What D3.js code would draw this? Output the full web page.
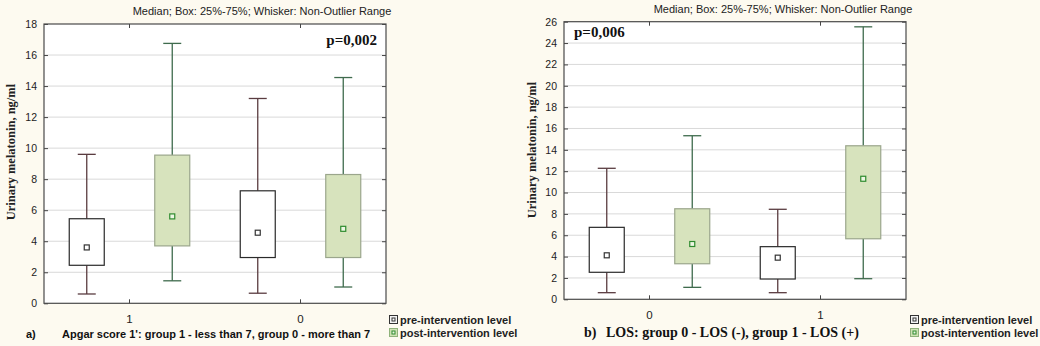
<!DOCTYPE html>
<html><head><meta charset="utf-8">
<script src="https://cdn.jsdelivr.net/npm/d3@7"></script>
<style>body{margin:0;background:#fdfaf0}svg{display:block}</style>
</head><body>
<script>
// ---- data (5-number summaries: [min, q1, median, q3, max]) ----
const groupsA = ["1", "0"];
const preA  = [[0.6, 2.45, 3.6, 5.45, 9.6], [0.65, 2.95, 4.55, 7.25, 13.2]];
const postA = [[1.45, 3.7, 5.6, 9.55, 16.75], [1.05, 2.95, 4.8, 8.3, 14.55]];
const ticksA = [0, 2, 4, 6, 8, 10, 12, 14, 16, 18];

const groupsB = ["0", "1"];
const preB  = [[0.62, 2.53, 4.12, 6.74, 12.27], [0.62, 1.9, 3.9, 4.93, 8.43]];
const postB = [[1.12, 3.33, 5.18, 8.48, 15.32], [1.93, 5.67, 11.29, 14.38, 25.52]];
const ticksB = [0, 2, 4, 6, 8, 10, 12, 14, 16, 18, 20, 22, 24, 26];

const seriesNames = ["pre-intervention level", "post-intervention level"];
const chartTitle = "Median; Box: 25%-75%; Whisker: Non-Outlier Range";
const yTitle = "Urinary melatonin, ng/ml";

const W = 1040, H = 346;
const svg = d3.select("body").append("svg").attr("width", W).attr("height", H);
svg.append("rect").attr("width", W).attr("height", H).attr("fill", "#fdfaf0");

const styles = {
  pre:  {fill: "#ffffff", stroke: "#2a2a2a", whisker: "#5a3c40", mFill: "#ffffff", mStroke: "#333333"},
  post: {fill: "#d7e3bd", stroke: "#9ba68c", whisker: "#3f6b4d", mFill: "#eef6e4", mStroke: "#2e8b2e"}
};

function panel(cfg) {
  const g = svg.append("g");
  const x = d3.scaleBand().domain(cfg.groups).range([cfg.x0, cfg.x1]);
  const inner = d3.scalePoint().domain(["pre", "post"]).range([0, x.bandwidth()]).padding(0.5);
  const y = d3.scaleLinear().domain([cfg.ticks[0], cfg.ticks[cfg.ticks.length - 1]]).range([cfg.y1, cfg.y0]);

  g.append("rect").attr("x", cfg.x0).attr("y", cfg.y0).attr("width", cfg.x1 - cfg.x0).attr("height", cfg.y1 - cfg.y0).attr("fill", "#ffffff");
  g.append("g").selectAll("line").data(cfg.ticks.slice(1, -1)).join("line")
    .attr("x1", cfg.x0).attr("x2", cfg.x1).attr("y1", d => y(d)).attr("y2", d => y(d))
    .attr("stroke", "#d9d9d9").attr("stroke-width", 1);

  const ya = g.append("g").attr("transform", `translate(${cfg.x0},0)`)
    .call(d3.axisLeft(y).tickValues(cfg.ticks).tickSize(-4).tickPadding(7).tickFormat(d3.format("d")));
  const yr = g.append("g").attr("transform", `translate(${cfg.x1},0)`)
    .call(d3.axisRight(y).tickValues(cfg.ticks).tickSize(-4).tickFormat(""));
  const xa = g.append("g").attr("transform", `translate(0,${cfg.y1})`)
    .call(d3.axisBottom(x).tickSize(-4).tickPadding(12));
  const xt = g.append("g").attr("transform", `translate(0,${cfg.y0})`)
    .call(d3.axisTop(x).tickSize(-4).tickFormat(""));
  [ya, yr, xa, xt].forEach(a => {
    a.select(".domain").remove();
    a.selectAll(".tick line").attr("stroke", "#444");
    a.selectAll("text").attr("font-family", "Liberation Sans, Arial, sans-serif").attr("font-size", 10.5).attr("fill", "#222");
  });
  xa.selectAll("text").attr("font-size", 11.5);

  const boxW = 35, capW = 18;
  cfg.groups.forEach((grp, i) => {
    [["pre", cfg.pre[i]], ["post", cfg.post[i]]].forEach(([k, v]) => {
      const s = styles[k];
      const cx = x(grp) + inner(k);
      const [mn, q1, md, q3, mx] = v;
      const bg = g.append("g");
      bg.append("line").attr("x1", cx).attr("x2", cx).attr("y1", y(mx)).attr("y2", y(q3)).attr("stroke", s.whisker).attr("stroke-width", 1.3);
      bg.append("line").attr("x1", cx).attr("x2", cx).attr("y1", y(q1)).attr("y2", y(mn)).attr("stroke", s.whisker).attr("stroke-width", 1.3);
      bg.append("line").attr("x1", cx - capW / 2).attr("x2", cx + capW / 2).attr("y1", y(mx)).attr("y2", y(mx)).attr("stroke", s.whisker).attr("stroke-width", 1.3);
      bg.append("line").attr("x1", cx - capW / 2).attr("x2", cx + capW / 2).attr("y1", y(mn)).attr("y2", y(mn)).attr("stroke", s.whisker).attr("stroke-width", 1.3);
      bg.append("rect").attr("x", cx - boxW / 2).attr("y", y(q3)).attr("width", boxW).attr("height", y(q1) - y(q3))
        .attr("fill", s.fill).attr("stroke", s.stroke).attr("stroke-width", 1.2);
      bg.append("rect").attr("x", cx - 2.5).attr("y", y(md) - 2.5).attr("width", 5).attr("height", 5)
        .attr("fill", s.mFill).attr("stroke", s.mStroke).attr("stroke-width", 1.2);
    });
  });

  g.append("rect").attr("x", cfg.x0).attr("y", cfg.y0).attr("width", cfg.x1 - cfg.x0).attr("height", cfg.y1 - cfg.y0)
    .attr("fill", "none").attr("stroke", "#4a4a4a").attr("stroke-width", 1.2);

  g.append("text").attr("x", cfg.titleX).attr("y", cfg.titleY).attr("text-anchor", "middle")
    .attr("font-family", "Liberation Sans, Arial, sans-serif").attr("font-size", 11).attr("fill", "#222").text(chartTitle);
  g.append("text").attr("transform", `translate(${cfg.yTitleX},${cfg.yTitleY}) rotate(-90)`).attr("text-anchor", "middle")
    .attr("font-family", "Liberation Serif, Times New Roman, serif").attr("font-weight", "bold").attr("font-size", 12.5)
    .attr("fill", "#222").text(yTitle);
  g.append("text").attr("x", cfg.pX).attr("y", cfg.pY).attr("text-anchor", cfg.pAnchor)
    .attr("font-family", "Liberation Serif, Times New Roman, serif").attr("font-weight", "bold").attr("font-size", 15)
    .attr("fill", "#111").text(cfg.p);
  g.append("text").attr("x", cfg.capLetterX).attr("y", cfg.capY)
    .attr("font-family", cfg.capFont).attr("font-weight", "bold").attr("font-size", cfg.capSize).attr("fill", "#111").text(cfg.letter);
  g.append("text").attr("x", cfg.capX).attr("y", cfg.capY)
    .attr("font-family", cfg.capFont).attr("font-weight", "bold").attr("font-size", cfg.capSize).attr("fill", "#111").text(cfg.caption);

  const lg = g.append("g").attr("transform", `translate(${cfg.legX},${cfg.legY})`);
  ["pre", "post"].forEach((k, j) => {
    const s = styles[k];
    const row = lg.append("g").attr("transform", `translate(0,${j * 13})`);
    row.append("rect").attr("x", 0.5).attr("y", -8.5).attr("width", 8).attr("height", 8)
      .attr("fill", k === "pre" ? "#f4f4f4" : "#cfe2b4").attr("stroke", k === "pre" ? "#333" : "#8fb27a").attr("stroke-width", 1);
    row.append("rect").attr("x", 3).attr("y", -6).attr("width", 3).attr("height", 3)
      .attr("fill", s.mFill).attr("stroke", s.mStroke).attr("stroke-width", 1);
    row.append("text").attr("x", 11).attr("y", 0)
      .attr("font-family", "Liberation Sans, Arial, sans-serif").attr("font-weight", "bold").attr("font-size", 11)
      .attr("fill", "#222").text(seriesNames[j]);
  });
}

panel({
  groups: groupsA, pre: preA, post: postA, ticks: ticksA,
  x0: 44, x1: 386, y0: 24, y1: 303.3,
  titleX: 262, titleY: 14.5, yTitleX: 15, yTitleY: 152,
  p: "p=0,002", pX: 377, pY: 45, pAnchor: "end",
  letter: "a)", capLetterX: 26, capX: 62, capY: 338, capFont: "Liberation Sans, Arial, sans-serif", capSize: 11,
  caption: "Apgar score 1': group 1 - less than 7, group 0 - more than 7",
  legX: 389, legY: 324
});
panel({
  groups: groupsB, pre: preB, post: postB, ticks: ticksB,
  x0: 564, x1: 906, y0: 21.7, y1: 299.3,
  titleX: 783, titleY: 12.5, yTitleX: 536, yTitleY: 150,
  p: "p=0,006", pX: 574, pY: 37, pAnchor: "start",
  letter: "b)", capLetterX: 584, capX: 606, capY: 337, capFont: "Liberation Serif, Times New Roman, serif", capSize: 14,
  caption: "LOS: group 0 - LOS (-), group 1 - LOS (+)",
  legX: 910, legY: 324
});
</script>
</body></html>
